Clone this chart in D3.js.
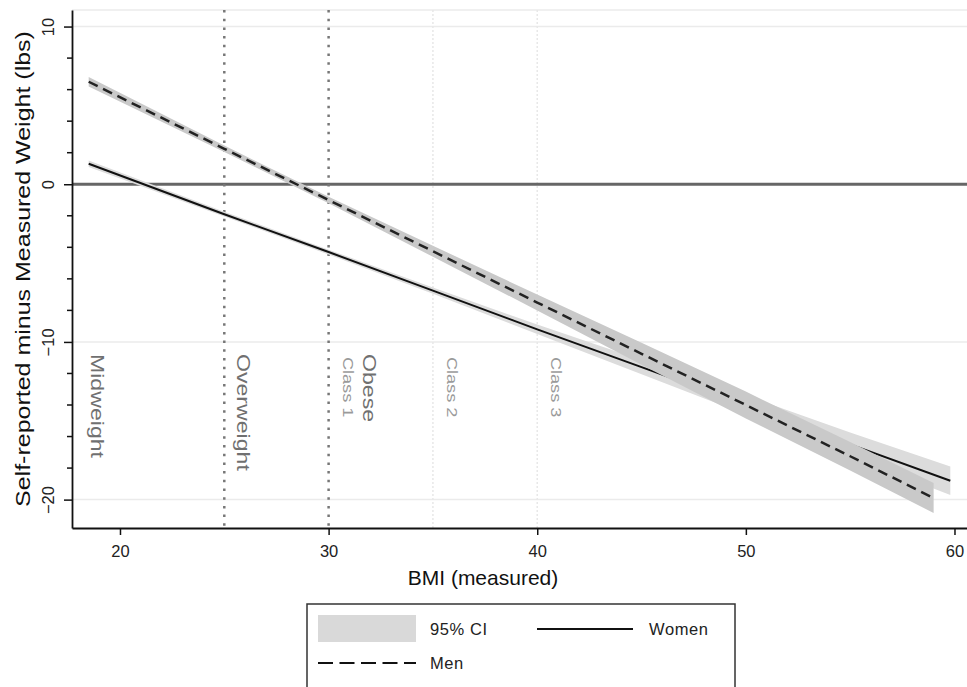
<!DOCTYPE html>
<html>
<head>
<meta charset="utf-8">
<script src="https://cdn.jsdelivr.net/npm/d3@7"></script>
<style>
body { margin: 0; background: #fff; }
svg { display: block; font-family: "Liberation Sans", Arial, Helvetica, sans-serif; }
</style>
</head>
<body>
<div id="chart-area"></div>
<script>
const width = 967;
const height = 687;

// plot box (pixels)
const plot = { left: 72, right: 967, top: 10, bottom: 528 };

// fitted lines + 95% CI
const menBmi  = [18.5, 25, 30, 35, 40, 45, 50, 55, 59];
const menFit  = [6.5, 2.25, -1.0, -4.25, -7.5, -10.75, -14.0, -17.25, -19.9];
const menLow  = [6.2, 2.05, -1.2, -4.6, -8.0, -11.45, -14.85, -18.15, -20.85];
const menHigh = [6.8, 2.45, -0.8, -3.9, -7.0, -10.05, -13.15, -16.35, -18.95];

const womenBmi  = [18.5, 25, 30, 35, 40, 45, 50, 55, 59.8];
const womenFit  = [1.3, -1.9, -4.3, -6.75, -9.2, -11.6, -14.0, -16.5, -18.8];
const womenLow  = [1.1, -2.05, -4.45, -6.95, -9.5, -12.05, -14.6, -17.25, -19.7];
const womenHigh = [1.5, -1.75, -4.15, -6.55, -8.9, -11.15, -13.4, -15.75, -17.9];

// axes
const xTicks = [20, 30, 40, 50, 60];
const yTicks = [10, 0, -10, -20];
const yMinorTicks = [8, 6, 4, 2, -2, -4, -6, -8, -12, -14, -16, -18];
const yGrid = [10, -10, -20];

// BMI category cut points and labels
const cutDark = [25, 30];
const cutFaint = [35, 40];
const bigLabels = ["Midweight", "Overweight", "Obese"];
const bigLabelAt = [17.7, 25, 30];
const classLabels = ["Class 1", "Class 2", "Class 3"];
const classLabelAt = [30, 35, 40];

const legendLabels = ["95% CI", "Women", "Men"];

const svg = d3.select("#chart-area")
    .append("svg")
        .attr("width", width)
        .attr("height", height);

const x = d3.scaleLinear()
    .domain([17.7, 60.6])
    .range([plot.left, plot.right]);

const y = d3.scaleLinear()
    .domain([11.05, -21.8])
    .range([plot.top, plot.bottom]);

// light grid
svg.append("g")
    .selectAll("line")
    .data(yGrid.concat([y.invert(plot.top)]))
    .enter()
    .append("line")
    .attr("x1", plot.left)
    .attr("x2", plot.right)
    .attr("y1", d => y(d))
    .attr("y2", d => y(d))
    .attr("stroke", "#ebebeb")
    .attr("stroke-width", 1.5);

// faint obesity class lines
svg.append("g")
    .selectAll("line")
    .data(cutFaint)
    .enter()
    .append("line")
    .attr("x1", d => x(d))
    .attr("x2", d => x(d))
    .attr("y1", plot.top)
    .attr("y2", plot.bottom)
    .attr("stroke", "#e8e8e8")
    .attr("stroke-width", 1.5)
    .attr("stroke-dasharray", "2,2");

// zero line
svg.append("line")
    .attr("x1", plot.left)
    .attr("x2", plot.right)
    .attr("y1", y(0))
    .attr("y2", y(0))
    .attr("stroke", "#666")
    .attr("stroke-width", 3);

// dotted cut lines at 25 and 30
svg.append("g")
    .selectAll("line")
    .data(cutDark)
    .enter()
    .append("line")
    .attr("x1", d => x(d))
    .attr("x2", d => x(d))
    .attr("y1", plot.top)
    .attr("y2", plot.bottom)
    .attr("stroke", "#777")
    .attr("stroke-width", 2.5)
    .attr("stroke-dasharray", "2.5,6.2");

// rotated category labels (text is stretched along its length like the original)
const labelTop = y(-10) + 12;
svg.append("g")
    .selectAll("text")
    .data(bigLabels)
    .enter()
    .append("text")
    .attr("transform", (d, i) => {
        const off = i === 0 ? 25 : (i === 2 ? 41 : 19);
        return `translate(${x(bigLabelAt[i]) + off}, ${labelTop}) rotate(90) scale(1.25,1)`;
    })
    .attr("dy", "0.35em")
    .attr("font-size", 18.5)
    .attr("fill", "#707070")
    .text(d => d);

svg.append("g")
    .selectAll("text")
    .data(classLabels)
    .enter()
    .append("text")
    .attr("transform", (d, i) =>
        `translate(${x(classLabelAt[i]) + 19}, ${labelTop + 3}) rotate(90) scale(1.25,1)`)
    .attr("dy", "0.35em")
    .attr("font-size", 14.5)
    .attr("fill", "#9a9a9a")
    .text(d => d);

function toRows(bmi, fit, low, high) {
    return bmi.map((b, i) => ({ bmi: b, fit: fit[i], low: low[i], high: high[i] }));
}
const women = toRows(womenBmi, womenFit, womenLow, womenHigh);
const men = toRows(menBmi, menFit, menLow, menHigh);

const band = d3.area()
    .x(d => x(d.bmi))
    .y0(d => y(d.low))
    .y1(d => y(d.high));

const fitLine = d3.line()
    .x(d => x(d.bmi))
    .y(d => y(d.fit));

// women first, men's band is drawn over the women line
svg.append("path")
    .datum(women)
    .attr("d", band)
    .attr("fill", "#dcdcdc");

svg.append("path")
    .datum(women)
    .attr("d", fitLine)
    .attr("fill", "none")
    .attr("stroke", "#111")
    .attr("stroke-width", 2);

svg.append("path")
    .datum(men)
    .attr("d", band)
    .attr("fill", "#c9c9c9");

svg.append("path")
    .datum(men)
    .attr("d", fitLine)
    .attr("fill", "none")
    .attr("stroke", "#222")
    .attr("stroke-width", 2.5)
    .attr("stroke-dasharray", "10,6");

// x axis
const xAxis = svg.append("g")
    .attr("transform", `translate(0, ${plot.bottom})`)
    .call(d3.axisBottom(x).tickValues(xTicks).tickSize(7).tickSizeOuter(0));
xAxis.select(".domain").attr("stroke", "#111").attr("stroke-width", 1.8);
xAxis.selectAll(".tick line").attr("stroke", "#111").attr("stroke-width", 1.5);
xAxis.selectAll(".tick text")
    .attr("y", 17)
    .attr("font-size", 16.5)
    .attr("font-family", "inherit")
    .attr("fill", "#222");

// y axis with minor ticks
svg.append("g")
    .attr("transform", `translate(${plot.left}, 0)`)
    .selectAll("line")
    .data(yMinorTicks)
    .enter()
    .append("line")
    .attr("x1", -5)
    .attr("x2", 0)
    .attr("y1", d => y(d))
    .attr("y2", d => y(d))
    .attr("stroke", "#111")
    .attr("stroke-width", 1.5);

const yAxis = svg.append("g")
    .attr("transform", `translate(${plot.left}, 0)`)
    .call(d3.axisLeft(y).tickValues(yTicks).tickSize(8).tickSizeOuter(0));
yAxis.select(".domain").attr("stroke", "#111").attr("stroke-width", 1.8);
yAxis.selectAll(".tick line").attr("stroke", "#111").attr("stroke-width", 1.5);
yAxis.selectAll(".tick text")
    .attr("transform", "rotate(-90)")
    .attr("x", 0)
    .attr("y", -18)
    .attr("dy", 0)
    .attr("text-anchor", "middle")
    .attr("font-size", 16.5)
    .attr("font-family", "inherit")
    .attr("fill", "#222");

// axis titles
svg.append("text")
    .attr("transform", `translate(30, ${(plot.top + plot.bottom) / 2}) rotate(-90) scale(1.19,1)`)
    .attr("text-anchor", "middle")
    .attr("font-size", 21)
    .attr("fill", "#111")
    .text("Self-reported minus Measured Weight (lbs)");

svg.append("text")
    .attr("x", 483)
    .attr("y", 585)
    .attr("text-anchor", "middle")
    .attr("font-size", 21)
    .attr("fill", "#111")
    .text("BMI (measured)");

// legend
const legend = svg.append("g").attr("transform", "translate(307, 604)");
legend.append("rect")
    .attr("width", 428)
    .attr("height", 90)
    .attr("fill", "#fff")
    .attr("stroke", "#333")
    .attr("stroke-width", 1.5);
legend.append("rect")
    .attr("x", 11)
    .attr("y", 11)
    .attr("width", 98)
    .attr("height", 27)
    .attr("fill", "#d9d9d9");
legend.append("line")
    .attr("x1", 230).attr("x2", 326)
    .attr("y1", 25).attr("y2", 25)
    .attr("stroke", "#111")
    .attr("stroke-width", 1.8);
legend.append("line")
    .attr("x1", 11).attr("x2", 109)
    .attr("y1", 59).attr("y2", 59)
    .attr("stroke", "#111")
    .attr("stroke-width", 1.8)
    .attr("stroke-dasharray", "15,6.5");
legend.selectAll("text.lab")
    .data(legendLabels)
    .enter()
    .append("text")
    .attr("class", "lab")
    .attr("x", (d, i) => i === 1 ? 342 : 123)
    .attr("y", (d, i) => i === 2 ? 65 : 31)
    .attr("font-size", 16.5)
    .attr("letter-spacing", 0.6)
    .attr("fill", "#222")
    .text(d => d);
</script>
</body>
</html>
